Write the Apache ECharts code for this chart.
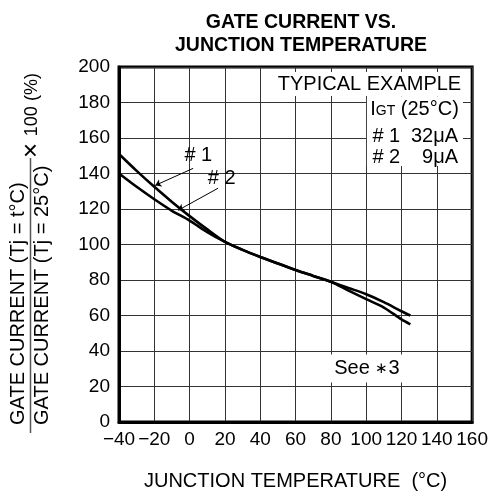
<!DOCTYPE html>
<html><head><meta charset="utf-8">
<script src="https://cdn.jsdelivr.net/npm/echarts@6/dist/echarts.min.js"></script>
<style>html,body{margin:0;padding:0;background:#fff}#c{width:491px;height:497px}</style>
</head><body><div id="c"></div>
<script>
// ---- data ----
const temps  = [-40,-30,-20,-10,0,10,20,30,40,50,60,70,80,90,100,110,120,125];
const ratio1 = [151,141.5,132.5,124,116,108.5,101.5,97,93,89.3,85.6,82.3,79,74,69.2,64.5,57.8,55];
const ratio2 = [140,132.5,125.5,119,113.5,107,101.5,97,93,89.3,85.6,82.3,79,75.5,72,67.5,62.4,60];
const xTicks = [-40,-20,0,20,40,60,80,100,120,140,160];
const yTicks = [0,20,40,60,80,100,120,140,160,180,200];
const seriesNames = ['# 1','# 2'];

const FONT = "'Liberation Sans', Arial, Helvetica, sans-serif";
const chart = echarts.init(document.getElementById('c'), null, {renderer:'canvas'});

const fmtMinus = v => String(v).replace('-', '\u2212');

chart.setOption({
  animation:false,
  backgroundColor:'#fff',
  textStyle:{fontFamily:FONT, color:'#000'},
  title:{
    text:'GATE CURRENT VS.\nJUNCTION TEMPERATURE',
    left:296, textAlign:'center', top:6,
    textStyle:{fontFamily:FONT, fontSize:19.5, fontWeight:'bold', lineHeight:23, color:'#000'}
  },
  grid:{left:119, top:67, right:18, bottom:75, show:true, borderColor:'#000', borderWidth:3, backgroundColor:'transparent'},
  xAxis:{
    type:'value', min:xTicks[0], max:xTicks[xTicks.length-1], interval:xTicks[1]-xTicks[0],
    name:'JUNCTION TEMPERATURE  (°C)', nameLocation:'middle', nameGap:49,
    nameTextStyle:{fontFamily:FONT, fontSize:20, color:'#000'},
    axisLine:{show:true, onZero:false, lineStyle:{color:'#000', width:3}},
    axisTick:{show:false},
    axisLabel:{fontFamily:FONT, fontSize:19, color:'#000', margin:8, formatter:v=>fmtMinus(v)},
    splitLine:{show:true, lineStyle:{color:'#333', width:1}}
  },
  yAxis:{
    type:'value', min:yTicks[0], max:yTicks[yTicks.length-1], interval:yTicks[1]-yTicks[0],
    axisLine:{show:true, onZero:false, lineStyle:{color:'#000', width:3}},
    axisTick:{show:false},
    axisLabel:{fontFamily:FONT, fontSize:19, color:'#000', margin:9},
    splitLine:{show:true, lineStyle:{color:'#333', width:1}}
  },
  series:[
    {name:seriesNames[0], type:'line', data:temps.map((t,i)=>[t,ratio1[i]]), smooth:0.3, showSymbol:false,
     lineStyle:{color:'#000', width:2.6}, z:5,
     markLine:{silent:true, symbol:['none','arrow'], symbolSize:6, label:{show:false},
       lineStyle:{color:'#000', width:1, type:'solid'},
       data:[[{coord:[2,142.9]},{coord:[-19.5,133.3]}],[{coord:[16.1,131.7]},{coord:[-6.5,119.3]}]]}},
    {name:seriesNames[1], type:'line', data:temps.map((t,i)=>[t,ratio2[i]]), smooth:0.3, showSymbol:false,
     lineStyle:{color:'#000', width:2.6}, z:5}
  ]
});

const P = (x,y)=>chart.convertToPixel({gridIndex:0},[x,y]);
const g = [];
function txt(pos, text, align, size, extra){
  const p = P(pos[0], pos[1]);
  g.push(Object.assign({type:'text', x:p[0], y:p[1], z:20,
    style:{text:text, font:`${size||19}px ${FONT}`, fill:'#000', align:align||'center', verticalAlign:'middle'}}, extra||{}));
}
// white box behind legend text block
const a = P(100.4,183.5), b = P(154.8,144.2);
g.push({type:'rect', z:15, shape:{x:a[0], y:a[1], width:b[0]-a[0], height:b[1]-a[1]}, style:{fill:'#fff'}});
// TYPICAL EXAMPLE
(function(){const p=P(155.5,190.4);
 g.push({type:'text', x:p[0], y:p[1], z:20, style:{text:'TYPICAL EXAMPLE', font:`20px ${FONT}`, fill:'#000', align:'right', verticalAlign:'middle', backgroundColor:'#fff', padding:[2,3,2,3]}});})();
(function(){const p=P(102.3,176.2);
 g.push({type:'text', x:p[0], y:p[1], z:20, style:{text:'{n|I}{s|GT}{n| (25°C)}', align:'left', verticalAlign:'middle',
   rich:{n:{fontSize:20, fontFamily:FONT, fill:'#000', verticalAlign:'bottom'}, s:{fontSize:14, fontFamily:FONT, fill:'#000', verticalAlign:'bottom', padding:[0,0,1,0]}}}});})();
txt([103.5,161.1],'# 1','left',20);
txt([152,161.1],'32μA','right',20);
txt([103.5,148.9],'# 2','left',20);
txt([152,148.9],'9μA','right',20);
// series labels
txt([4.9,150.4],'# 1','center',20);
txt([18.2,137.2],'# 2','center',20);
// See *3
(function(){const p=P(100.4,30.2);
 g.push({type:'text', x:p[0], y:p[1], z:20, style:{text:'See {a|∗}3', font:`20px ${FONT}`, fill:'#000', align:'center', verticalAlign:'middle', backgroundColor:'#fff', padding:[4,4,4,4],
   rich:{a:{fontSize:15, fontFamily:FONT, fill:'#000'}}}});})();

// Y axis name (fraction), rotated
g.push({type:'text', x:18, y:425, rotation:Math.PI/2, z:20,
  style:{text:'GATE CURRENT (Tj = t°C)', font:`20px ${FONT}`, fill:'#000', align:'left', verticalAlign:'middle'}});
g.push({type:'text', x:42, y:425, rotation:Math.PI/2, z:20,
  style:{text:'GATE CURRENT (Tj = 25°C)', font:`20px ${FONT}`, fill:'#000', align:'left', verticalAlign:'middle'}});
g.push({type:'line', z:20, shape:{x1:30.5, y1:158, x2:30.5, y2:433}, style:{stroke:'#555', lineWidth:1.5}});
g.push({type:'text', x:32, y:158, rotation:Math.PI/2, z:20,
  style:{text:'{x|×}  {n|100 (%)}', align:'left', verticalAlign:'middle',
    rich:{x:{fontSize:26, fontFamily:FONT, fill:'#000', verticalAlign:'middle'}, n:{fontSize:18, fontFamily:FONT, fill:'#000', verticalAlign:'middle'}}}});

chart.setOption({graphic:g});
</script></body></html>
